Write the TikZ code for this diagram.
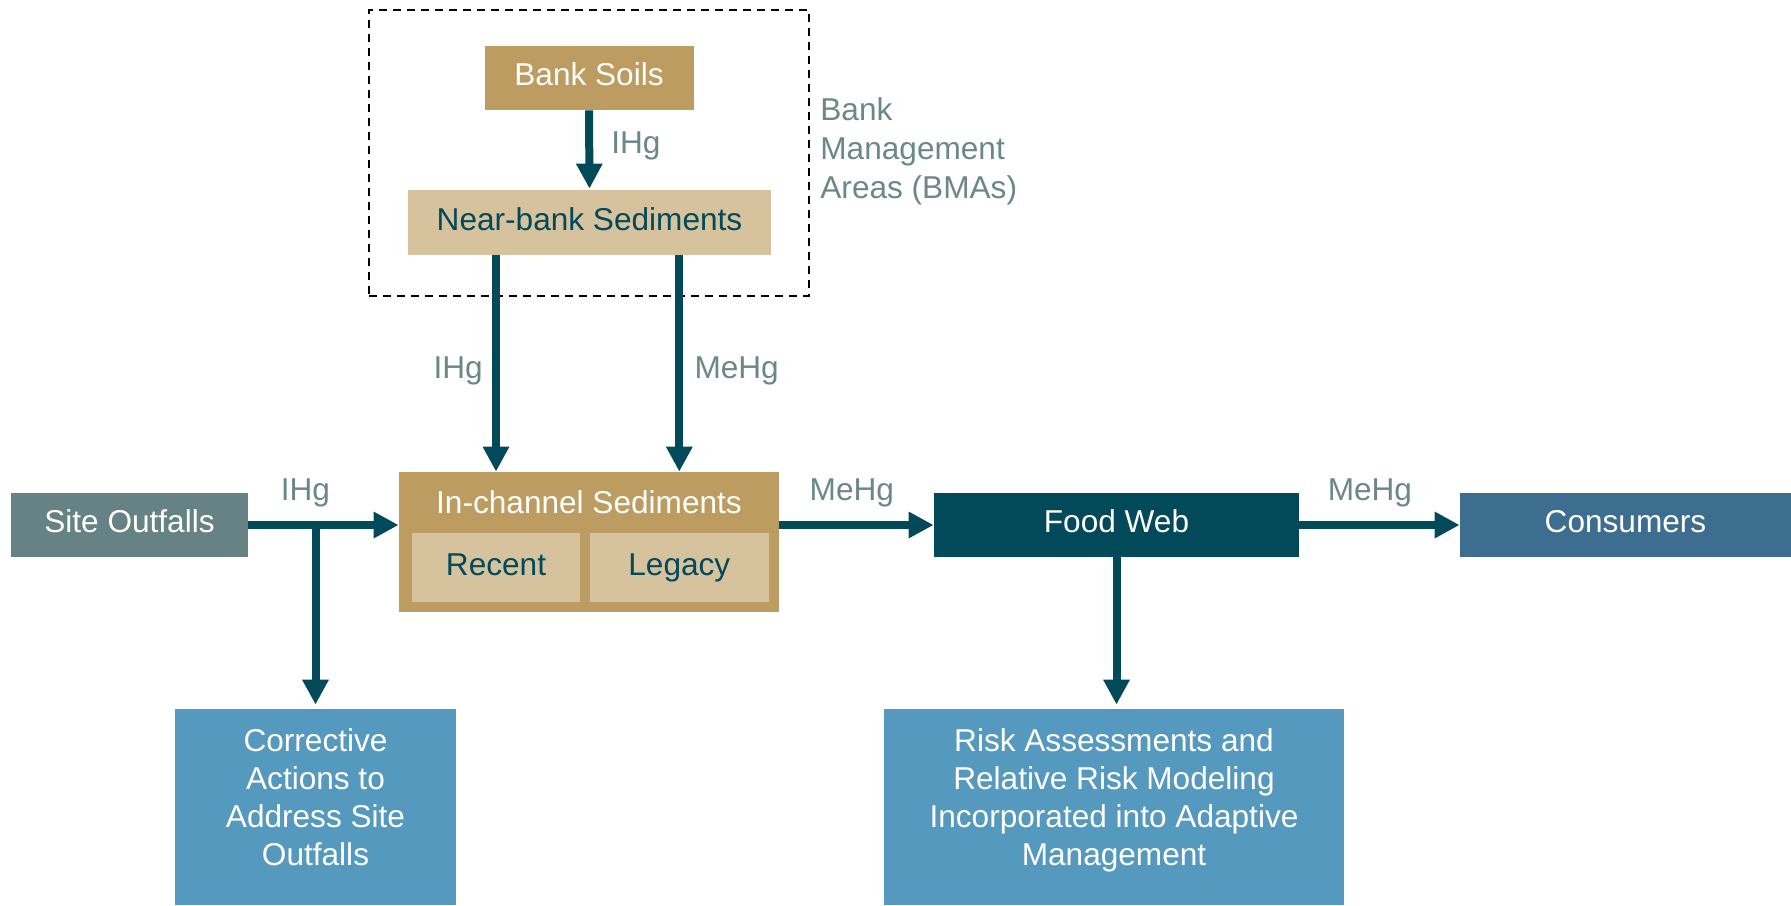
\documentclass[tikz,border=0pt]{standalone}
\usepackage{fontspec}
\setmainfont{Liberation Sans}
\usetikzlibrary{positioning,arrows.meta,calc,fit}
\definecolor{soiltan}{HTML}{BD9C61}
\definecolor{sedtan}{HTML}{D6C29D}
\definecolor{deepteal}{HTML}{02495A}
\definecolor{outfallgrey}{HTML}{678285}
\definecolor{consblue}{HTML}{3D6E8F}
\definecolor{actblue}{HTML}{5699BE}
\definecolor{labgrey}{HTML}{6B8787}
\tikzset{
  flow/.style={-{Triangle[length=12.5pt,width=12.5pt]}, line width=4pt, color=deepteal},
  box/.style={rectangle, inner sep=0pt, minimum height=32pt, align=center, font=\fontsize{15.8}{19}\selectfont},
  oneline/.style={text height=11.5pt, text depth=3.6pt},
  darkbox/.style={box, oneline, fill=#1, text=white},
  lightbox/.style={box, oneline, fill=sedtan, text=deepteal},
  hg/.style={text=labgrey, inner sep=0pt, font=\fontsize{15.8}{19.5}\selectfont},
  bmaframe/.style={draw=black, line width=0.9pt, dash pattern=on 4pt off 3pt, inner sep=0pt}
}
\begin{document}
\begin{tikzpicture}[x=0.5pt, y=-0.5pt]
\useasboundingbox (0,0) rectangle (1791,905);
% bank management area
\node[darkbox=soiltan, minimum width=104.5pt] (soils) at (589,78) {Bank Soils};
\node[lightbox, minimum width=181.5pt, minimum height=32.5pt] (near) at (589.5,222.5) {Near-bank Sediments};
\coordinate (bmaNW) at (369,10);
\coordinate (bmaSE) at (809,296);
\node[bmaframe, fit=(bmaNW)(bmaSE)] (bma) {};
\node[hg, align=left, anchor=west] (bmalabel) at (820,151.5) {Bank\\Management\\Areas (BMAs)};
% in-channel sediments
\node[box, fill=soiltan, minimum width=190pt, minimum height=70pt] (inchan) at (589,542) {};
\node[box, text=white, anchor=base, minimum height=0pt] (inchantitle) at ($(inchan.north)+(0,42)$) {In-channel Sediments};
\node[lightbox, minimum width=84pt, minimum height=34.5pt] (recent) at (496,567.5) {Recent};
\node[lightbox, minimum width=89.5pt, minimum height=34.5pt, right=4.5pt of recent] (legacy) {Legacy};
% main row
\node[darkbox=outfallgrey, minimum width=118.5pt] (site) at (129.5,525) {Site Outfalls};
\node[darkbox=deepteal, minimum width=182.5pt] (food) at (1116.5,525) {Food Web};
\node[darkbox=consblue, minimum width=165.5pt] (cons) at (1625.5,525) {Consumers};
% actions
\node[box, fill=actblue, minimum width=140.5pt, minimum height=98pt] (corr) at (315.5,807) {};
\node[box, text=white, minimum height=0pt, yshift=5pt] (corrtxt) at (corr) {Corrective\\Actions to\\Address Site\\Outfalls};
\node[box, fill=actblue, minimum width=230pt, minimum height=98pt] (risk) at (1114,807) {};
\node[box, text=white, minimum height=0pt, yshift=3.4pt] (risktxt) at (risk) {Risk Assessments and\\Relative Risk Modeling\\Incorporated into Adaptive\\Management};
\coordinate (tap) at (corr.north |- site.east);
% connectors
\draw[flow, shorten >=0.5pt] (soils.south) -- node[hg, anchor=base west, xshift=9pt, yshift=-1.5pt] (l1) {IHg} (near.north);
\draw[flow] (near.south -| recent) -- node[hg, anchor=base east, xshift=-4.6pt, yshift=-7.25pt] (l2) {IHg} (inchan.north -| recent);
\draw[flow] (near.south -| legacy) -- node[hg, anchor=base west, xshift=5.6pt, yshift=-7.25pt] (l3) {MeHg} (inchan.north -| legacy);
\draw[flow] (site.east) -- node[hg, anchor=base, pos=0.38, yshift=12.5pt] (l4) {IHg} (site.east -| inchan.west);
\draw[flow, shorten >=2pt] (tap) -- (corr.north);
\draw[flow] (food.west -| inchan.east) -- node[hg, anchor=base, pos=0.47, yshift=12.5pt] (l5) {MeHg} (food.west);
\draw[flow] (food.east) -- node[hg, anchor=base, pos=0.44, yshift=12.5pt] (l6) {MeHg} (cons.west);
\draw[flow, shorten >=2pt] (food.south) -- (food.south |- risk.north);
\end{tikzpicture}
\end{document}
